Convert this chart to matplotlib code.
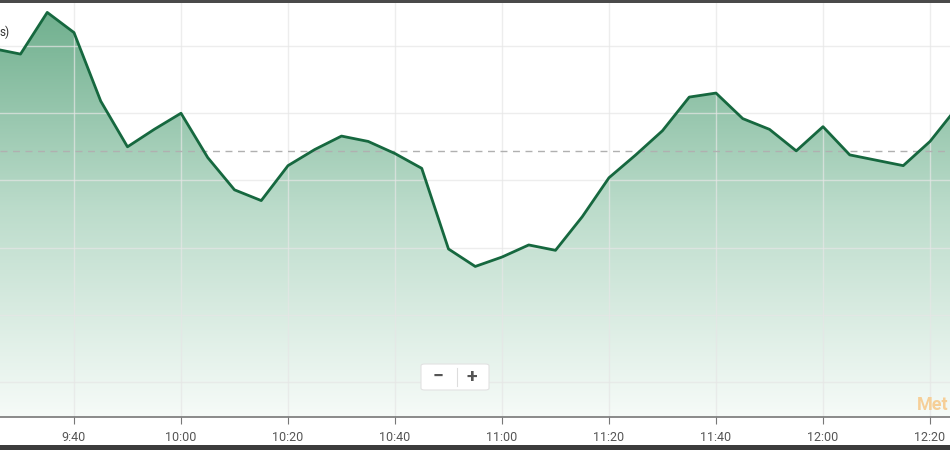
import matplotlib
matplotlib.use("Agg")
import matplotlib.pyplot as plt
from matplotlib.colors import LinearSegmentedColormap
from matplotlib.patches import FancyBboxPatch, Rectangle
import numpy as np

plt.rcParams['font.family'] = ['Roboto', 'DejaVu Sans']

# time in minutes after midnight, one point every 5 minutes
times = [565, 570, 575, 580, 585, 590, 595, 600, 605, 610, 615, 620, 625,
         630, 635, 640, 645, 650, 655, 660, 665, 670, 675, 680, 685, 690,
         695, 700, 705, 710, 715, 720, 725, 730, 735, 740, 745]
prices = [26.48, 26.44, 26.75, 26.60, 26.09, 25.75, 25.88, 26.00, 25.67,
          25.43, 25.35, 25.61, 25.73, 25.83, 25.79, 25.70, 25.59, 24.99,
          24.86, 24.93, 25.02, 24.98, 25.23, 25.52, 25.69, 25.87, 26.12,
          26.15, 25.96, 25.88, 25.72, 25.90, 25.69, 25.65, 25.61, 25.79,
          26.04]
ref_price = 25.72
tick_times = [580, 600, 620, 640, 660, 680, 700, 720, 740]
tick_labels = ['9:40', '10:00', '10:20', '10:40', '11:00', '11:20',
               '11:40', '12:00', '12:20']
grid_levels = [24.0, 24.5, 25.0, 25.5, 26.0, 26.5]

fig = plt.figure(figsize=(9.5, 4.5), dpi=100)
ax = fig.add_axes([0, 33 / 450, 1, 414 / 450])
ax.set_xlim(566.17, 743.74)
ax.set_ylim(23.74, 26.82)

# gradient fill under the line
fill = ax.fill_between(times, prices, 23.0, color='none', lw=0)
cmap = LinearSegmentedColormap.from_list('g', ['#f6fbf8', '#bcdccb', '#6dae8c'])
grad = np.linspace(0, 1, 256).reshape(-1, 1)
img = ax.imshow(grad, cmap=cmap, aspect='auto', origin='lower',
                extent=[566.17, 743.74, 23.74, 26.82], zorder=1)
img.set_clip_path(fill.get_paths()[0], transform=ax.transData)

# grid
for lv in grid_levels:
    ax.axhline(lv, color='#e6e6e6', lw=1, zorder=2, alpha=0.7)
for t in tick_times:
    ax.axvline(t, color='#e6e6e6', lw=1, zorder=2, alpha=0.7)

ax.axhline(ref_price, color='#b0b0b0', lw=1, ls=(0, (5, 4)), zorder=3)
ax.plot(times, prices, color='#16683f', lw=2, zorder=4)

for s in ['top', 'left', 'right']:
    ax.spines[s].set_visible(False)
ax.spines['bottom'].set_color('#777777')
ax.spines['bottom'].set_linewidth(1.2)
ax.set_yticks([])
ax.set_xticks(tick_times)
ax.set_xticklabels(tick_labels, fontsize=9, color='#555555')
ax.tick_params(axis='x', length=5, color='#777777', pad=5)

# tail of the series caption, the rest lies outside the crop
fig.text(10 / 950, (450 - 32) / 450, 's)', fontsize=8.5, color='#333333',
         ha='right', va='center', zorder=5)

# zoom control
fig.patches.append(FancyBboxPatch((421 / 950, (450 - 390) / 450), 68 / 950, 26 / 450,
                                  boxstyle='round,pad=0,rounding_size=0.004',
                                  transform=fig.transFigure, fc='white',
                                  ec='#e2e2e2', lw=0.8, zorder=10))
fig.text(438 / 950, (450 - 377) / 450, '\u2212', fontsize=14, fontweight='bold',
         color='#555555', ha='center', va='center', zorder=11)
fig.text(472 / 950, (450 - 377) / 450, '+', fontsize=14, fontweight='bold',
         color='#555555', ha='center', va='center', zorder=11)
fig.lines.append(plt.Line2D([457 / 950, 457 / 950], [(450 - 386) / 450, (450 - 368) / 450],
                            transform=fig.transFigure, color='#dddddd', lw=0.8, zorder=11))

# watermark at the right edge
fig.text(948 / 950, (450 - 405) / 450, 'Met', fontsize=13, fontweight='bold',
         color='#f6cf98', ha='right', va='center', zorder=11)

# dark frame bands
fig.patches.append(Rectangle((0, 0), 1, 5 / 450, transform=fig.transFigure,
                             fc='#3c3c3c', ec='none', zorder=12))
fig.patches.append(Rectangle((0, 447 / 450), 1, 3 / 450, transform=fig.transFigure,
                             fc='#4a4a4a', ec='none', zorder=12))

fig.savefig('out.png', dpi=100)
